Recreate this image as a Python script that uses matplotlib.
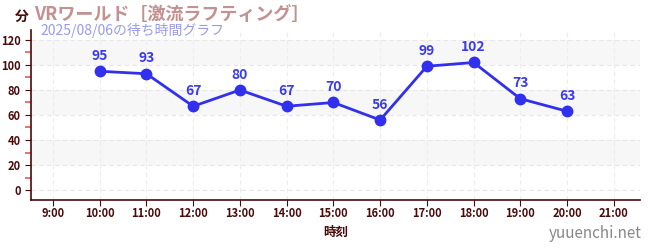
import matplotlib
matplotlib.use("Agg")
import matplotlib.pyplot as plt
from matplotlib.ticker import MultipleLocator

plt.rcParams['font.family'] = ['Noto Sans CJK JP', 'DejaVu Sans']

hours = [10, 11, 12, 13, 14, 15, 16, 17, 18, 19, 20]
waits = [95, 93, 67, 80, 67, 70, 56, 99, 102, 73, 63]
tick_hours = list(range(9, 22))
tick_labels = [f"{h}:00" for h in tick_hours]
title = "VRワールド［激流ラフティング］"
subtitle = "2025/08/06の待ち時間グラフ"

fig = plt.figure(figsize=(6.5, 2.5), dpi=100)
ax = fig.add_axes([31/650, 50/250, 609/650, 170/250])
dark = '#4a0a0a'

ax.set_xlim(8.53, 21.56)
ax.set_ylim(-8, 128)

for lo, hi in [(20, 40), (60, 80), (100, 120)]:
    ax.axhspan(lo, hi, color='#f7f7f7', zorder=0, lw=0)
for y in range(0, 121, 20):
    ax.axhline(y, color='#e6e6e6', lw=0.8, ls=(0, (4, 3)), zorder=0.5)
for h in tick_hours:
    ax.axvline(h, color='#ececec', lw=0.8, ls=(0, (4, 3)), zorder=0.5)

ax.plot(hours, waits, color='#3030ee', lw=2.0, marker='o', ms=7.5, zorder=3)
for h, w in zip(hours, waits):
    ax.annotate(str(w), (h, w), xytext=(0, 6), textcoords='offset points',
                ha='center', va='bottom', color='#3a3aee', fontsize=10, fontweight='bold')

ax.set_xticks(tick_hours)
ax.set_xticklabels(tick_labels)
ax.set_yticks(range(0, 121, 20))
ax.yaxis.set_minor_locator(MultipleLocator(10))
ax.tick_params(axis='y', which='minor', length=4, color='#ee5555', width=1.2)
ax.tick_params(axis='both', which='major', length=4, color=dark, labelsize=8, labelcolor=dark)
ax.tick_params(axis='x', which='major', pad=1)
for lab in ax.get_xticklabels() + ax.get_yticklabels():
    lab.set_fontweight('bold')

for s in ['top', 'right']:
    ax.spines[s].set_visible(False)
for s in ['left', 'bottom']:
    ax.spines[s].set_color(dark)
    ax.spines[s].set_linewidth(1.2)

ax.set_xlabel("時刻", color=dark, fontsize=9, fontweight='bold', labelpad=4)

fig.text(15/650, 1 - 17/250, "分", color=dark, fontsize=10, fontweight='bold', ha='left', va='center')
fig.text(34/650, 1 - 15/250, title, color='#c49090', fontsize=13, fontweight='bold', ha='left', va='center')
fig.text(40/650, 1 - 31/250, subtitle, color='#9999ee', fontsize=10, ha='left', va='center')
fig.text(642/650, 1 - 234/250, "yuuenchi.net", color='#888888', fontsize=11, ha='right', va='center')

fig.savefig("out.png", dpi=100, facecolor='white')
